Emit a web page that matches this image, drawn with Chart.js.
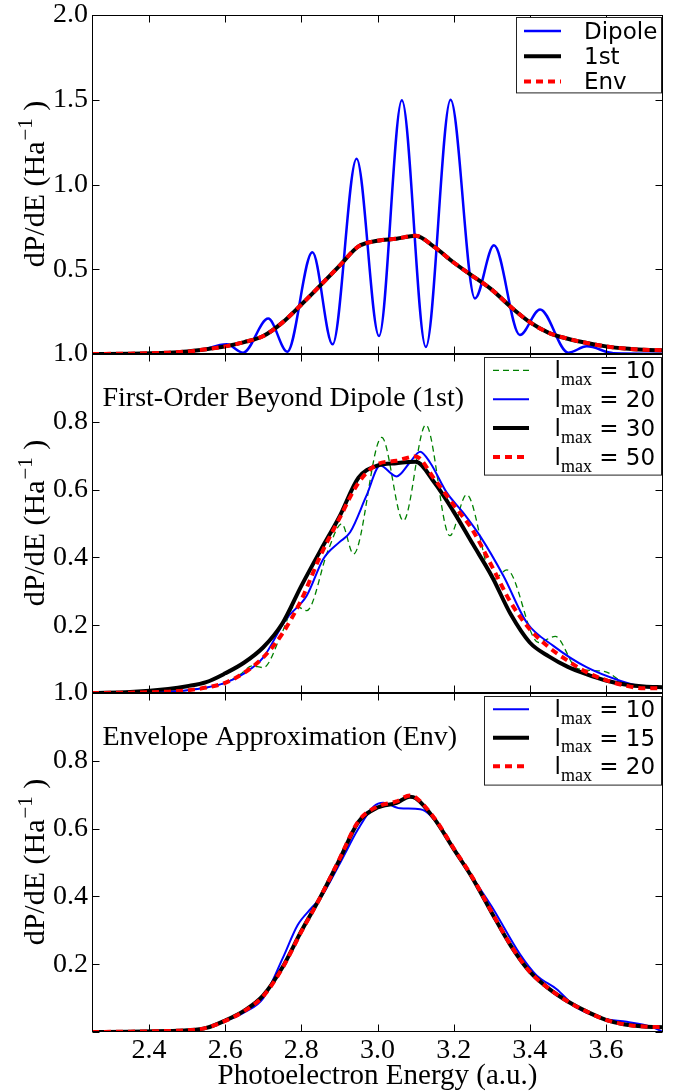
<!DOCTYPE html>
<html>
<head>
<meta charset="utf-8">
<script src="https://cdn.jsdelivr.net/npm/chart.js@4.4.0/dist/chart.umd.min.js"></script>
<style>
  html, body { margin: 0; padding: 0; background: #fff; }
  body { width: 682px; height: 1092px; position: relative; overflow: hidden; }
  canvas { position: absolute; left: 0; }
  #c1 { top: -15px; }
  #c2 { top: 324px; }
  #c3 { top: 663px; }
</style>
</head>
<body>
<canvas id="c1" width="682" height="399"></canvas>
<canvas id="c2" width="682" height="399"></canvas>
<canvas id="c3" width="682" height="429"></canvas>
<script>
// --- DATA ---
const xTicks = [2.4, 2.6, 2.8, 3.0, 3.2, 3.4, 3.6];
const yTicksTop = [0, 0.5, 1.0, 1.5, 2.0];
const yTicksLow = [0, 0.2, 0.4, 0.6, 0.8, 1.0];
const yLabelsTop = [0.5, 1.0, 1.5, 2.0];
const yLabelsMid = [0.2, 0.4, 0.6, 0.8, 1.0];
const yLabelsLow = [0.2, 0.4, 0.6, 0.8, 1.0];

const energyGrid = [2.25, 2.35, 2.45, 2.5, 2.55, 2.6, 2.65, 2.7, 2.75, 2.8, 2.85, 2.9, 2.95, 3.0, 3.05,
                    3.1, 3.15, 3.2, 3.25, 3.3, 3.35, 3.4, 3.45, 3.5, 3.55, 3.6, 3.65, 3.7, 3.75];

// panel 1 : dipole vs beyond dipole
const dipoleLabels = ['Dipole', '1st', 'Env'];
const dipoleE = [2.25, 2.45, 2.53, 2.604, 2.647, 2.713, 2.763, 2.829, 2.882, 2.945, 3.004, 3.064, 3.127,
                 3.192, 3.256, 3.306, 3.374, 3.427, 3.501, 3.55, 3.62, 3.75];
const dipoleP = [0.0, 0.005, 0.02, 0.057, 0.008, 0.209, 0.014, 0.60, 0.057, 1.152, 0.106, 1.497, 0.041,
                 1.50, 0.328, 0.641, 0.112, 0.263, 0.008, 0.045, 0.005, 0.002];
const firstP = [0.0, 0.002, 0.008, 0.015, 0.028, 0.045, 0.07, 0.106, 0.185, 0.292, 0.405, 0.52, 0.635, 0.668, 0.68,
                0.698, 0.63, 0.54, 0.46, 0.38, 0.278, 0.188, 0.125, 0.09, 0.065, 0.045, 0.032, 0.025, 0.022];
const envP   = [0.0, 0.002, 0.008, 0.015, 0.028, 0.045, 0.07, 0.106, 0.185, 0.292, 0.405, 0.52, 0.635, 0.668, 0.68,
                0.698, 0.63, 0.54, 0.46, 0.38, 0.278, 0.188, 0.125, 0.09, 0.065, 0.045, 0.032, 0.025, 0.022];

// panel 2 : first-order beyond dipole, l_max convergence
const firstLabels = ['l_max = 10', 'l_max = 20', 'l_max = 30', 'l_max = 50'];
const first10E = [2.25, 2.4, 2.5, 2.6, 2.64, 2.67, 2.70, 2.75, 2.783, 2.814, 2.87, 2.906, 2.937, 3.011, 3.068,
                  3.127, 3.19, 3.234, 3.305, 3.34, 3.423, 3.467, 3.524, 3.595, 3.655, 3.75];
const first10P = [0.0, 0.002, 0.008, 0.03, 0.055, 0.08, 0.075, 0.18, 0.258, 0.243, 0.42, 0.499, 0.41, 0.754, 0.508,
                  0.791, 0.464, 0.585, 0.335, 0.363, 0.149, 0.167, 0.073, 0.064, 0.026, 0.018];
const first20E = [2.25, 2.35, 2.45, 2.5, 2.55, 2.6, 2.65, 2.7, 2.76, 2.814, 2.858, 2.9, 2.928, 2.971, 3.007, 3.05,
                  3.085, 3.112, 3.138, 3.182, 3.225, 3.27, 3.331, 3.392, 3.462, 3.549, 3.637, 3.69, 3.75];
const first20P = [0.0, 0.001, 0.004, 0.008, 0.016, 0.03, 0.058, 0.105, 0.218, 0.287, 0.396, 0.445, 0.474, 0.582, 0.671, 0.639,
                  0.68, 0.712, 0.68, 0.591, 0.532, 0.462, 0.345, 0.208, 0.139, 0.076, 0.036, 0.02, 0.014];
const first30P = [0.0, 0.003, 0.012, 0.02, 0.032, 0.058, 0.09, 0.135, 0.205, 0.316, 0.42, 0.52, 0.635, 0.671, 0.678,
                  0.682, 0.62, 0.535, 0.44, 0.345, 0.232, 0.149, 0.108, 0.077, 0.055, 0.037, 0.025, 0.019, 0.017];
const first50P = [0.0, 0.001, 0.004, 0.008, 0.016, 0.03, 0.06, 0.105, 0.175, 0.275, 0.405, 0.515, 0.62, 0.675, 0.685,
                  0.698, 0.63, 0.555, 0.48, 0.375, 0.267, 0.188, 0.135, 0.095, 0.061, 0.038, 0.022, 0.014, 0.014];

// panel 3 : envelope approximation
const envLabels = ['l_max = 10', 'l_max = 15', 'l_max = 20'];
const env10E = [2.25, 2.35, 2.45, 2.5, 2.55, 2.6, 2.65, 2.7, 2.752, 2.79, 2.826, 2.85, 2.9, 2.95, 2.99, 3.015,
                3.059, 3.112, 3.14, 3.2, 3.25, 3.3, 3.374, 3.418, 3.47, 3.52, 3.593, 3.655, 3.72, 3.75];
const env10P = [0.0, 0.001, 0.003, 0.005, 0.012, 0.032, 0.058, 0.10, 0.22, 0.315, 0.365, 0.395, 0.495, 0.60, 0.665, 0.676,
                0.66, 0.657, 0.638, 0.543, 0.455, 0.37, 0.23, 0.167, 0.127, 0.075, 0.04, 0.03, 0.015, 0.0];
const env15E = [2.25, 2.35, 2.45, 2.5, 2.55, 2.6, 2.65, 2.7, 2.75, 2.8, 2.85, 2.9, 2.95, 3.0, 3.05, 3.085,
                3.1, 3.15, 3.2, 3.25, 3.3, 3.35, 3.4, 3.45, 3.5, 3.55, 3.6, 3.65, 3.7, 3.75];
const env15P = [0.0, 0.001, 0.003, 0.005, 0.012, 0.034, 0.063, 0.108, 0.19, 0.298, 0.398, 0.508, 0.62, 0.662, 0.676, 0.694,
                0.69, 0.628, 0.54, 0.453, 0.352, 0.255, 0.178, 0.128, 0.09, 0.06, 0.036, 0.022, 0.016, 0.014];
const env20P = [0.0, 0.001, 0.003, 0.005, 0.012, 0.033, 0.062, 0.106, 0.188, 0.296, 0.398, 0.51, 0.622, 0.665, 0.68, 0.698,
                0.692, 0.63, 0.542, 0.455, 0.354, 0.256, 0.178, 0.128, 0.09, 0.06, 0.036, 0.022, 0.016, 0.014];

const pts = (xs, ys) => xs.map((x, i) => ({ x: x, y: ys[i] }));

const SERIF = '"Liberation Serif", "Times New Roman", serif';
const SANS = '"DejaVu Sans", sans-serif';

// --- DECORATION PLUGIN (frame, inward ticks, texts, legend) ---
function drawLegendLabel(ctx, text, x, base) {
    if (text.startsWith('l_max')) {
        ctx.font = '23px ' + SANS;
        ctx.fillText('l', x, base);
        x += ctx.measureText('l').width;
        ctx.font = '18px ' + SERIF;
        ctx.fillText('max', x, base + 6.5);
        x += ctx.measureText('max').width;
        ctx.font = '23px ' + SANS;
        ctx.fillText(text.slice(5), x, base);
    } else {
        ctx.font = '23px ' + SANS;
        ctx.fillText(text, x, base);
    }
}

const panelDecor = {
    id: 'panel',
    afterDatasetsDraw(chart, args, opts) {
        const { ctx, chartArea: a } = chart;
        const xs = chart.scales.x, ys = chart.scales.y;
        const L = Math.round(a.left) + 0.5, R = Math.round(a.right) - 0.5;
        const T = Math.round(a.top) + 0.5, B = Math.round(a.bottom) - 0.5;
        ctx.save();
        ctx.strokeStyle = '#000';
        ctx.lineWidth = 1;
        ctx.strokeRect(L, T, R - L, B - T);
        ctx.beginPath();
        xTicks.forEach(v => {
            const px = Math.round(xs.getPixelForValue(v)) + 0.5;
            ctx.moveTo(px, B); ctx.lineTo(px, B - 7);
            ctx.moveTo(px, T); ctx.lineTo(px, T + 7);
        });
        opts.yTicks.forEach(v => {
            const py = Math.round(ys.getPixelForValue(v)) + 0.5;
            ctx.moveTo(L, py); ctx.lineTo(L + 7, py);
            ctx.moveTo(R, py); ctx.lineTo(R - 7, py);
        });
        ctx.stroke();

        ctx.fillStyle = '#000';
        // panel title
        if (opts.title) {
            ctx.font = '28px ' + SERIF;
            ctx.textAlign = 'left';
            ctx.textBaseline = 'alphabetic';
            ctx.fillText(opts.title, a.left + 10.5, a.top + 52);
        }
        // y axis title with superscript
        ctx.translate(44, (a.top + a.bottom) / 2);
        ctx.rotate(-Math.PI / 2);
        ctx.textAlign = 'left';
        ctx.textBaseline = 'alphabetic';
        const main = 'dP/dE (Ha', sup = '\u22121', tail = ' )';
        ctx.font = '30px ' + SERIF;
        const w1 = ctx.measureText(main).width, w3 = ctx.measureText(tail).width;
        ctx.font = '21px ' + SERIF;
        const w2 = ctx.measureText(sup).width;
        let x0 = -(w1 + w2 + w3) / 2;
        ctx.font = '30px ' + SERIF;
        ctx.fillText(main, x0, 0);
        ctx.font = '21px ' + SERIF;
        ctx.fillText(sup, x0 + w1 + 1, -12);
        ctx.font = '30px ' + SERIF;
        ctx.fillText(tail, x0 + w1 + w2 + 1, 0);
        ctx.restore();
    },
    afterDraw(chart, args, opts) {
        const lg = opts.legend;
        if (!lg) return;
        const { ctx, chartArea: a } = chart;
        const ds = chart.data.datasets;
        const right = Math.round(a.right) - 2, top = Math.round(a.top) + lg.inset;
        const left = right - lg.width;
        const h = lg.rowTop + (ds.length - 1) * lg.rowGap + lg.rowBottom;
        ctx.save();
        ctx.fillStyle = '#fff';
        ctx.fillRect(left, top, lg.width, h);
        ctx.strokeStyle = '#222';
        ctx.lineWidth = 1;
        ctx.strokeRect(left + 0.5, top + 0.5, lg.width, h);
        ds.forEach((d, i) => {
            const yy = top + lg.rowTop + i * lg.rowGap;
            ctx.beginPath();
            ctx.setLineDash(d.borderDash || []);
            ctx.lineWidth = d.borderWidth;
            ctx.strokeStyle = d.borderColor;
            ctx.moveTo(left + lg.lineStart, yy);
            ctx.lineTo(left + lg.lineEnd, yy);
            ctx.stroke();
            ctx.setLineDash([]);
            ctx.fillStyle = '#000';
            ctx.textAlign = 'left';
            ctx.textBaseline = 'alphabetic';
            drawLegendLabel(ctx, d.label, left + lg.textStart, yy + 8);
        });
        ctx.restore();
    }
};

function line(label, data, color, width, dash, order) {
    return { label: label, data: data, borderColor: color, borderWidth: width, borderDash: dash,
             fill: false, pointRadius: 0, order: order, cubicInterpolationMode: 'monotone' };
}

function makePanel(id, datasets, cfg) {
    return new Chart(document.getElementById(id), {
        type: 'line',
        data: { datasets: datasets },
        options: {
            responsive: false,
            animation: false,
            events: [],
            layout: { padding: { top: 30, bottom: cfg.showX ? 0 : 30, left: 0, right: 19 } },
            plugins: { legend: { display: false }, tooltip: { enabled: false }, panel: cfg },
            scales: {
                x: {
                    type: 'linear', min: 2.25, max: 3.75, display: cfg.showX,
                    afterBuildTicks: s => { s.ticks = xTicks.map(v => ({ value: v })); },
                    afterFit: s => { s.height = cfg.showX ? 60 : 0; },
                    grid: { display: false, drawTicks: false },
                    border: { display: false },
                    ticks: { color: '#000', padding: 2, maxRotation: 0, autoSkip: false,
                             font: { family: SERIF, size: 28 }, callback: v => Number(v).toFixed(1) },
                    title: { display: true, text: 'Photoelectron Energy (a.u.)', color: '#000',
                             font: { family: SERIF, size: 29, lineHeight: 1.05 }, padding: { top: 0, bottom: 0 } }
                },
                y: {
                    type: 'linear', min: 0, max: cfg.yMax,
                    afterBuildTicks: s => { s.ticks = cfg.yLabels.map(v => ({ value: v })); },
                    afterFit: s => { s.width = 92; },
                    grid: { display: false, drawTicks: false },
                    border: { display: false },
                    ticks: { color: '#000', padding: 4, font: { family: SERIF, size: 28 },
                             callback: v => Number(v).toFixed(1) }
                }
            }
        },
        plugins: [panelDecor]
    });
}

makePanel('c1', [
    line(dipoleLabels[0], pts(dipoleE, dipoleP), '#0000ff', 2.5, [], 2),
    line(dipoleLabels[1], pts(energyGrid, firstP), '#000000', 4, [], 1),
    line(dipoleLabels[2], pts(energyGrid, envP), '#ff0000', 4, [7, 5], 0)
], { showX: false, yMax: 2.0, yTicks: yTicksTop, yLabels: yLabelsTop,
     legend: { inset: 2, width: 145, rowTop: 14, rowGap: 25.2, rowBottom: 11, lineStart: 8, lineEnd: 45, textStart: 68 } });

makePanel('c2', [
    line(firstLabels[0], pts(first10E, first10P), '#008000', 1.3, [6, 4], 3),
    line(firstLabels[1], pts(first20E, first20P), '#0000ff', 2, [], 2),
    line(firstLabels[2], pts(energyGrid, first30P), '#000000', 4, [], 1),
    line(firstLabels[3], pts(energyGrid, first50P), '#ff0000', 4, [7, 5], 0)
], { showX: false, yMax: 1.0, yTicks: yTicksLow, yLabels: yLabelsMid, title: 'First-Order Beyond Dipole (1st)',
     legend: { inset: 3, width: 177, rowTop: 13.3, rowGap: 28.9, rowBottom: 17.6, lineStart: 9, lineEnd: 45, textStart: 70.5 } });

makePanel('c3', [
    line(envLabels[0], pts(env10E, env10P), '#0000ff', 2, [], 2),
    line(envLabels[1], pts(env15E, env15P), '#000000', 4, [], 1),
    line(envLabels[2], pts(env15E, env20P), '#ff0000', 4, [7, 5], 0)
], { showX: true, yMax: 1.0, yTicks: yTicksLow, yLabels: yLabelsLow, title: 'Envelope Approximation (Env)',
     legend: { inset: 3, width: 177, rowTop: 13.3, rowGap: 28.5, rowBottom: 18.3, lineStart: 9, lineEnd: 45, textStart: 70.5 } });
</script>
</body>
</html>
